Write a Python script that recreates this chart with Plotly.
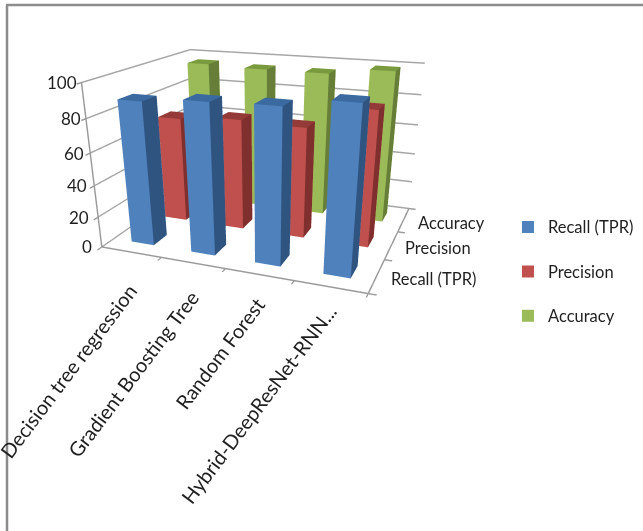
import plotly.graph_objects as go

categories = ["Decision tree regression", "Gradient Boosting Tree", "Random Forest", "Hybrid-DeepResNet-RNN..."]
series_names = ["Recall (TPR)", "Precision", "Accuracy"]
recall = [89, 92, 93, 98]
precision = [69, 72, 71, 85]
accuracy = [96, 95, 95, 99]
z_ticks = [0, 20, 40, 60, 80, 100]
series_values = [recall, precision, accuracy]
colors = [("#4F81BD", "#2F5480", "#3A6A9F"), ("#C0504D", "#7F2F2D", "#943B39"), ("#9BBB59", "#667E38", "#7A9A3E")]

FONT = "Lato"
INK = "#1f1f1f"
BAR = 0.38
DEPTH = 0.38


def bar_mesh(i, j, v, col, name):
    x0, x1 = i + 0.5 - BAR / 2, i + 0.5 + BAR / 2
    y0, y1 = j + 0.5 - DEPTH / 2, j + 0.5 + DEPTH / 2
    xs = [x0, x1, x1, x0, x0, x1, x1, x0]
    ys = [y0, y0, y1, y1, y0, y0, y1, y1]
    zs = [0, 0, 0, 0, v, v, v, v]
    I = [0, 0, 1, 1, 4, 4, 3, 3, 0, 0, 0, 0]
    J = [1, 5, 2, 6, 5, 6, 2, 6, 3, 7, 1, 2]
    K = [5, 4, 6, 5, 6, 7, 6, 7, 7, 4, 2, 3]
    fc = [col[0]] * 2 + [col[1]] * 2 + [col[2]] * 2 + [col[0]] * 6
    return go.Mesh3d(x=xs, y=ys, z=zs, i=I, j=J, k=K, facecolor=fc, flatshading=True,
                     lighting=dict(ambient=1, diffuse=0, specular=0, roughness=1, fresnel=0),
                     name=name, showlegend=False, hoverinfo="skip")


fig = go.Figure()
for j, (name, vals, col) in enumerate(zip(series_names, series_values, colors)):
    for i, v in enumerate(vals):
        fig.add_trace(bar_mesh(i, j, v, col, name))
for name, col in zip(series_names, colors):
    fig.add_trace(go.Scatter3d(x=[None], y=[None], z=[None], mode="markers", name=name, legendgroup=name,
                               marker=dict(symbol="square", size=12, color=col[0]), hoverinfo="skip"))

ann = []
for i, c in enumerate(categories):
    ann.append(dict(x=i + 0.5, y=0, z=0, text=c, textangle=-53, showarrow=False,
                    xanchor="right", yanchor="top", yshift=-25 + 5 * i, xshift=13,
                    font=dict(family=FONT, size=20, color=INK)))
for j, s in enumerate(series_names):
    ann.append(dict(x=4, y=j + 0.5, z=0, text=s, showarrow=False, xanchor="left", yanchor="middle",
                    xshift=12, yshift=-3, font=dict(family=FONT, size=16.5, color=INK)))
for t in z_ticks:
    ann.append(dict(x=0, y=0, z=t, text=str(t), showarrow=False, xanchor="right", yanchor="middle",
                    xshift=-8 + 0.06 * t, font=dict(family=FONT, size=17, color=INK)))

axis_common = dict(showbackground=False, showticklabels=False, title=dict(text=""), showspikes=False,
                   zeroline=False, showline=True, linecolor="#9a9a9a", linewidth=3,
                   ticks="outside", ticklen=6, tickcolor="#9a9a9a", tickwidth=3)

fig.update_layout(
    width=643, height=531, autosize=False, margin=dict(l=0, r=0, t=0, b=0, autoexpand=False),
    paper_bgcolor="white",
    font=dict(family=FONT, size=16.5, color=INK),
    legend=dict(x=0.79, y=0.605, xanchor="left", yanchor="top", tracegroupgap=20, bgcolor="rgba(0,0,0,0)",
                font=dict(family=FONT, size=16.5, color=INK), itemwidth=30),
    scene=dict(
        domain=dict(x=[0, 0.818], y=[0, 1]),
        aspectmode="manual", aspectratio=dict(x=1.51, y=1.2, z=0.9),
        camera=dict(eye=dict(x=1.244, y=-3.322, z=1.06),
                    center=dict(x=0.085, y=-0.272, z=-0.57),
                    up=dict(x=0, y=0, z=1),
                    projection=dict(type="perspective")),
        xaxis=dict(axis_common, range=[0, 4], tickvals=[0, 1, 2, 3, 4], showgrid=False),
        yaxis=dict(axis_common, range=[0, 3], tickvals=[0, 1, 2, 3], showgrid=False),
        zaxis=dict(axis_common, range=[0, 100], tickvals=z_ticks, showgrid=True, gridcolor="#a6a6a6", gridwidth=3),
        annotations=ann,
    ),
    shapes=[
        dict(type="line", xref="paper", yref="paper", x0=7 / 643, x1=7 / 643, y0=0, y1=526 / 531,
             line=dict(color="#8c8c8c", width=2.5)),
        dict(type="line", xref="paper", yref="paper", x0=6 / 643, x1=1, y0=526 / 531, y1=526 / 531,
             line=dict(color="#8c8c8c", width=2.5)),
    ],
)
fig.write_html("out.html", config=dict(displayModeBar=False),
               post_script="document.body.style.margin='0';document.documentElement.style.overflow='hidden';")
